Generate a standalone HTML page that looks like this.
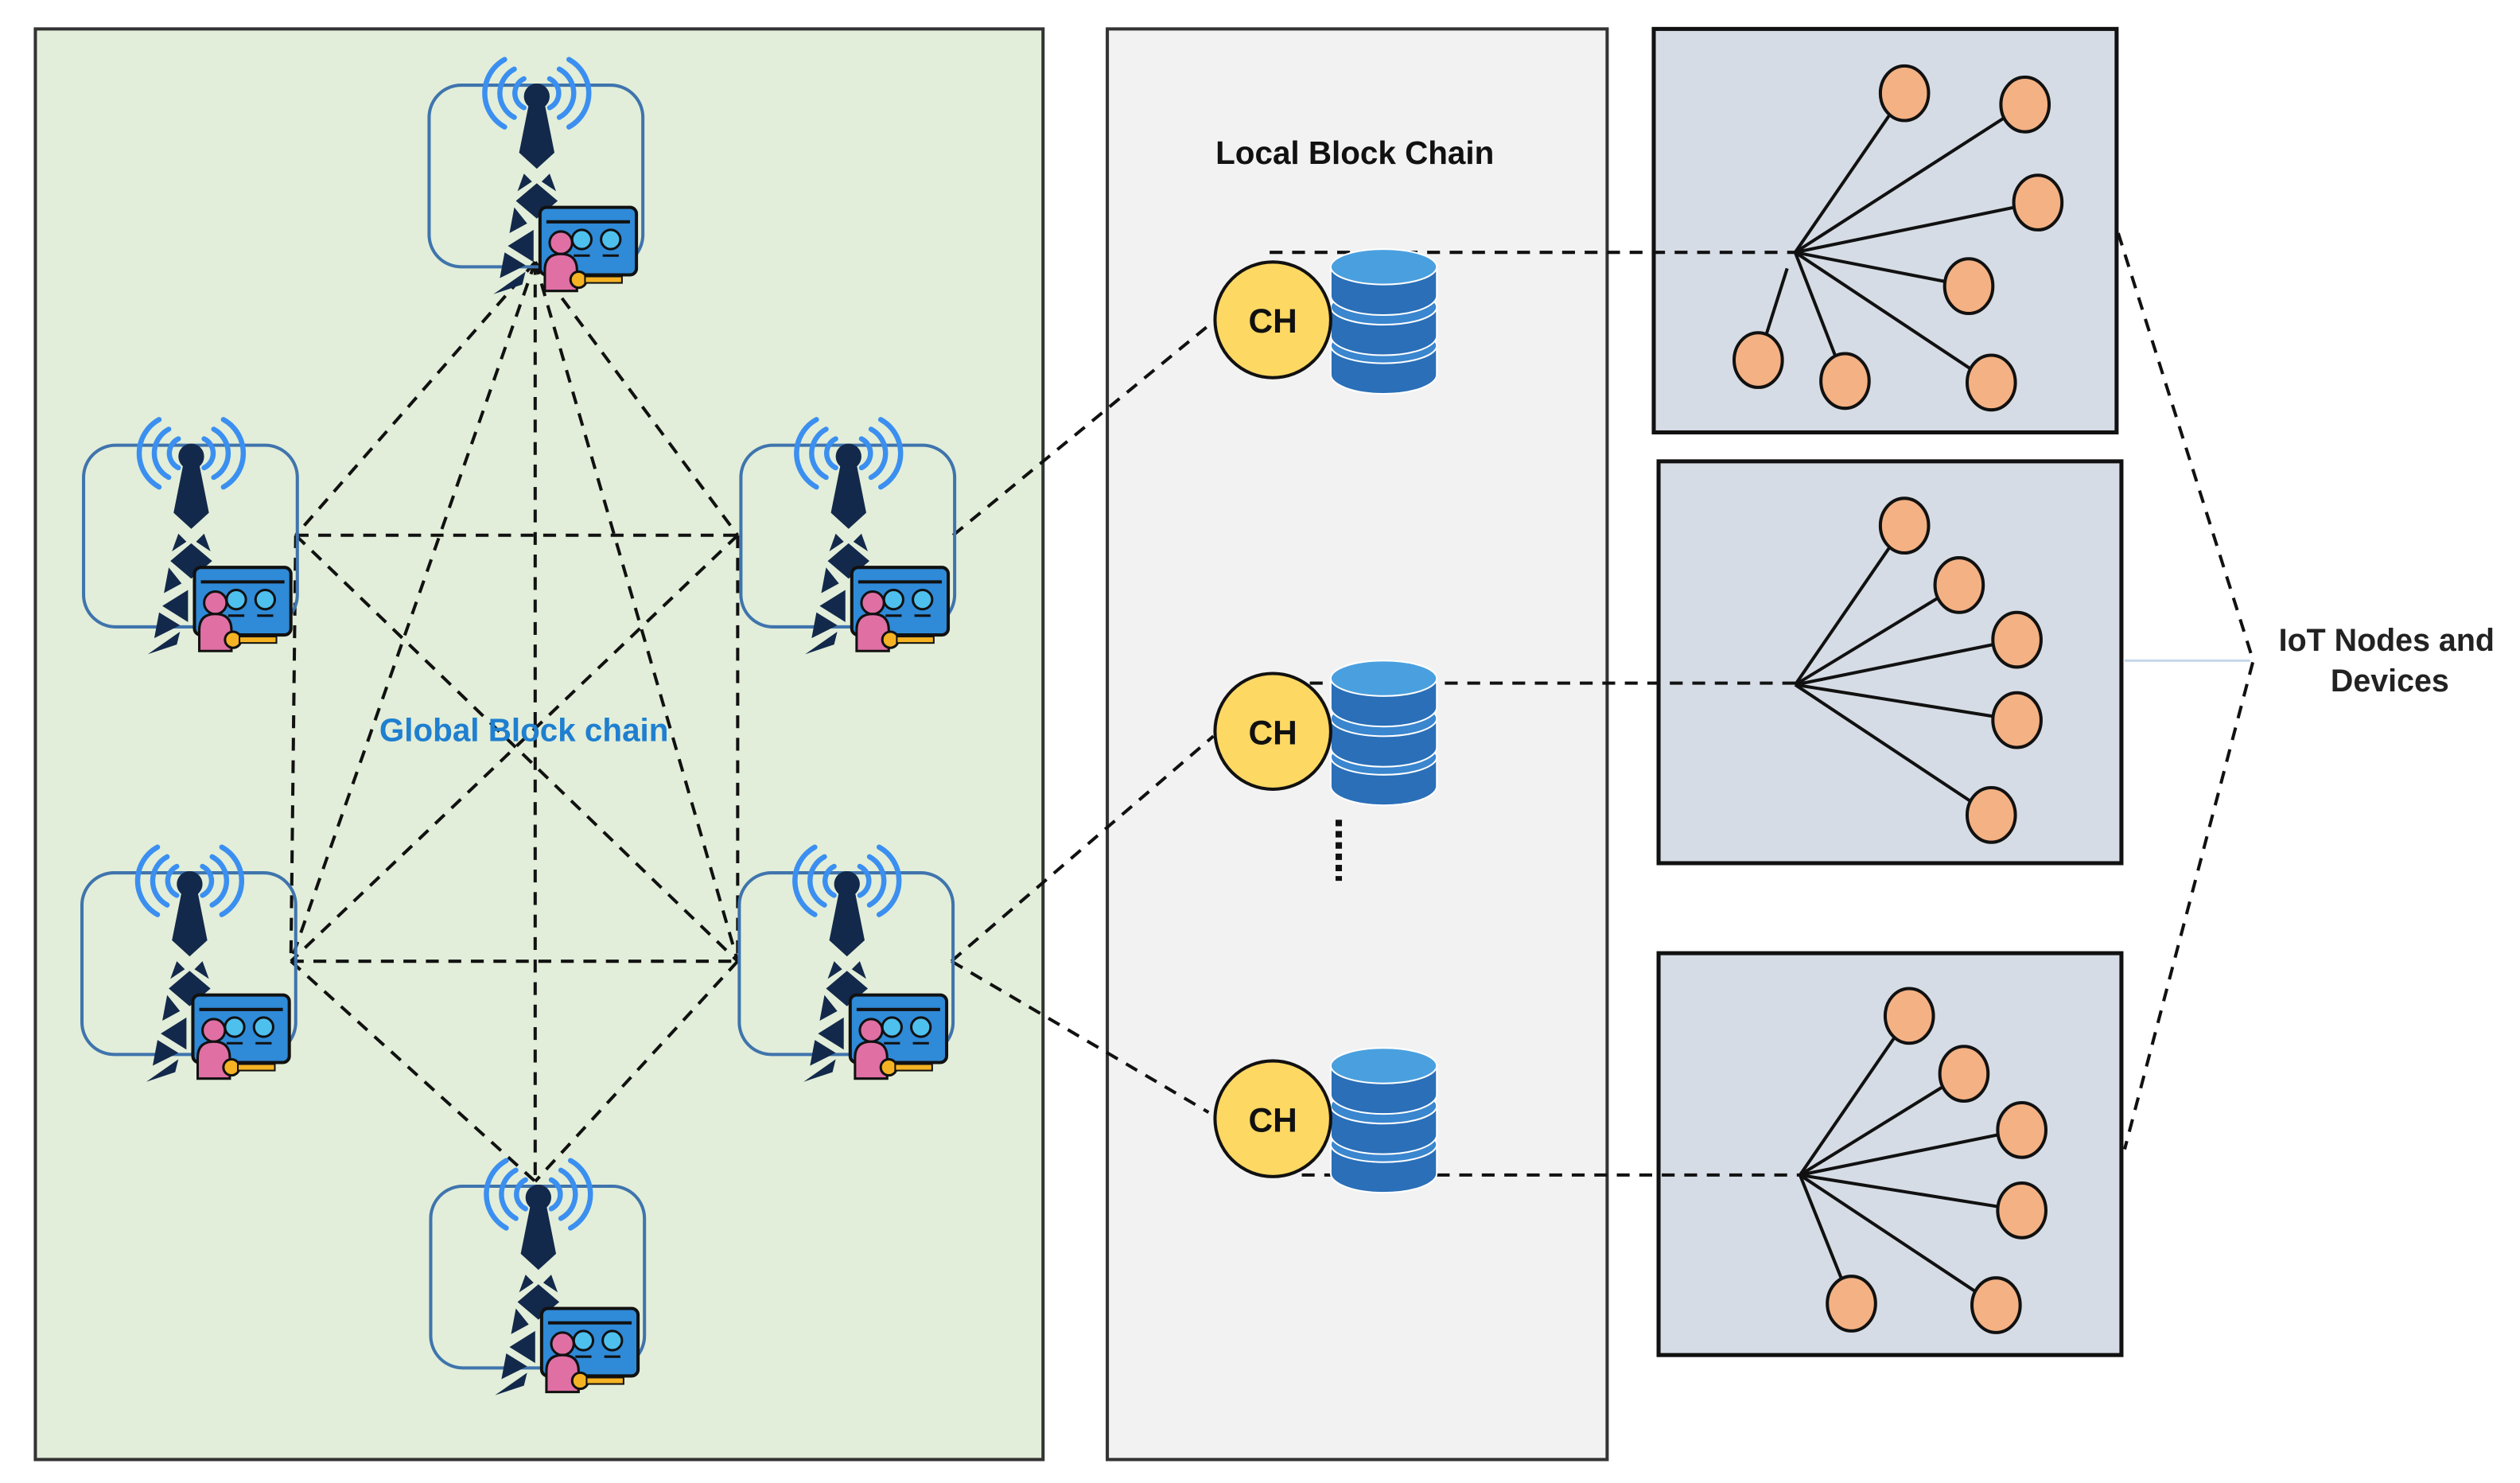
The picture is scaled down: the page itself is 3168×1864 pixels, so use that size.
<!DOCTYPE html>
<html><head><meta charset="utf-8"><style>
html,body{margin:0;padding:0;background:#fff;}
svg{display:block;}
text{font-family:"Liberation Sans",sans-serif;}
</style></head><body>
<svg width="3168" height="1864" viewBox="0 0 1568 922.6" preserveAspectRatio="none" xmlns="http://www.w3.org/2000/svg">
<defs>
<g id="tower">
  <rect x="0" y="0" width="133" height="113" rx="20" fill="none" stroke="#3f74ad" stroke-width="2"/>
  <g fill="none" stroke="#3b8ff0" stroke-width="3.2" stroke-linecap="round">
    <path d="M59 -4 A10 10 0 0 0 59 14"/><path d="M75 -4 A10 10 0 0 1 75 14"/>
    <path d="M53 -10 A17 17 0 0 0 53 20"/><path d="M81 -10 A17 17 0 0 1 81 20"/>
    <path d="M47 -16 A24 24 0 0 0 47 26"/><path d="M87 -16 A24 24 0 0 1 87 26"/>
  </g>
  <circle cx="67" cy="7" r="8" fill="#13294b"/>
  <g fill="#13294b">
  <polygon points="62,12 72,12 78,42 67,52 56,42"/>
  <polygon points="59,55 64,60 55,66"/>
  <polygon points="75,55 70,60 79,66"/>
  <polygon points="67,61 80,72 67,83 54,72"/>
  <polygon points="53,76 61,86 50,92"/>
  <polygon points="65,90 49,100 65,110"/>
  <polygon points="47,104 60,112 44,120"/>
  <polygon points="60,116 40,130 58,124"/>
  </g>
  <rect x="69" y="76" width="60" height="42" rx="4" fill="#2f8ad8" stroke="#111" stroke-width="2"/>
  <line x1="73" y1="85" x2="125" y2="85" stroke="#111" stroke-width="2"/>
  <circle cx="95" cy="96" r="6" fill="#4ec0ee" stroke="#111" stroke-width="1.5"/>
  <circle cx="113" cy="96" r="6" fill="#4ec0ee" stroke="#111" stroke-width="1.5"/>
  <line x1="108" y1="106" x2="118" y2="106" stroke="#111" stroke-width="1.5"/>
  <line x1="90" y1="106" x2="100" y2="106" stroke="#111" stroke-width="1.5"/>
  <circle cx="82" cy="98" r="7" fill="#e06fa4" stroke="#111" stroke-width="1.5"/>
  <path d="M72 128 L72 115 Q72 105 82 105 Q92 105 92 115 L92 128 Z" fill="#e06fa4" stroke="#111" stroke-width="1.5"/>
  <circle cx="93" cy="121" r="5" fill="#f5b324" stroke="#111" stroke-width="1.5"/>
  <rect x="97" y="119" width="23" height="4" fill="#f5b324" stroke="#111" stroke-width="1"/>
</g>
<g id="db">
  <g stroke="#fff" stroke-width="1">
  <path d="M0 62 v18 a33 12 0 0 0 66 0 v-18 z" fill="#2a6fb8"/>
  <ellipse cx="33" cy="62" rx="33" ry="11" fill="#3a86cf"/>
  <path d="M0 38 v18 a33 12 0 0 0 66 0 v-18 z" fill="#2a6fb8"/>
  <ellipse cx="33" cy="38" rx="33" ry="11" fill="#3a86cf"/>
  <path d="M0 13 v18 a33 12 0 0 0 66 0 v-18 z" fill="#2a6fb8"/>
  <ellipse cx="33" cy="13" rx="33" ry="11" fill="#4aa0df"/>
  </g>
</g>
</defs>

<rect x="22" y="18" width="627" height="890" fill="#e2eed9" stroke="#333" stroke-width="2"/>
<rect x="689" y="18" width="311" height="890" fill="#f2f2f2" stroke="#333" stroke-width="2"/>
<rect x="1029" y="18" width="288" height="251" fill="#d6dce5" stroke="#111" stroke-width="2.5"/>
<rect x="1032" y="287" width="288" height="250" fill="#d6dce5" stroke="#111" stroke-width="2.5"/>
<rect x="1032" y="593" width="288" height="250" fill="#d6dce5" stroke="#111" stroke-width="2.5"/>

<g stroke="#111" stroke-width="2" stroke-dasharray="8,6" fill="none">
  <line x1="333" y1="163" x2="184" y2="333"/>
  <line x1="333" y1="163" x2="459" y2="333"/>
  <line x1="333" y1="163" x2="181" y2="598"/>
  <line x1="333" y1="163" x2="459" y2="598"/>
  <line x1="333" y1="163" x2="333" y2="735"/>
  <line x1="184" y1="333" x2="459" y2="333"/>
  <line x1="181" y1="598" x2="459" y2="598"/>
  <line x1="184" y1="333" x2="181" y2="598"/>
  <line x1="459" y1="333" x2="459" y2="598"/>
  <line x1="184" y1="333" x2="459" y2="598"/>
  <line x1="459" y1="333" x2="181" y2="598"/>
  <line x1="181" y1="598" x2="333" y2="735"/>
  <line x1="459" y1="598" x2="333" y2="735"/>
  <line x1="593" y1="333" x2="755" y2="200"/>
  <line x1="592" y1="598" x2="755" y2="458"/>
  <line x1="592" y1="598" x2="752" y2="692"/>
  <line x1="790" y1="157" x2="1117" y2="157"/>
  <line x1="815" y1="425" x2="1117" y2="425"/>
  <line x1="810" y1="731" x2="1120" y2="731"/>
  <polyline points="1318,145 1402,411 1322,715"/>
</g>
<line x1="1322" y1="411" x2="1400" y2="411" stroke="#c5d7ea" stroke-width="1.5"/>
<line x1="833" y1="510" x2="833" y2="548" stroke="#111" stroke-width="4" stroke-dasharray="4,3"/>

<use href="#tower" x="267" y="53"/>
<use href="#tower" x="52" y="277"/>
<use href="#tower" x="461" y="277"/>
<use href="#tower" x="51" y="543"/>
<use href="#tower" x="460" y="543"/>
<use href="#tower" x="268" y="738"/>

<text x="326" y="461" font-size="20" font-weight="bold" fill="#1f7fd0" text-anchor="middle">Global Block chain</text>
<text x="843" y="102" font-size="20" font-weight="bold" fill="#111" text-anchor="middle">Local Block Chain</text>

<use href="#db" x="828" y="153"/>
<use href="#db" x="828" y="409"/>
<use href="#db" x="828" y="650"/>
<g fill="#fdd863" stroke="#111" stroke-width="2">
<circle cx="792" cy="199" r="36"/><circle cx="792" cy="455" r="36"/><circle cx="792" cy="696" r="36"/>
</g>
<g font-size="21" font-weight="bold" fill="#111" text-anchor="middle">
<text x="792" y="207">CH</text><text x="792" y="463">CH</text><text x="792" y="704">CH</text>
</g>

<g stroke="#111" stroke-width="2">
  <line x1="1117" y1="157" x2="1185" y2="58"/><line x1="1117" y1="157" x2="1260" y2="65"/>
  <line x1="1117" y1="157" x2="1268" y2="126"/><line x1="1117" y1="157" x2="1225" y2="178"/>
  <line x1="1112" y1="167" x2="1094" y2="224"/><line x1="1117" y1="157" x2="1148" y2="237"/>
  <line x1="1117" y1="157" x2="1239" y2="238"/>
  <line x1="1117" y1="426" x2="1185" y2="327"/><line x1="1117" y1="426" x2="1219" y2="364"/>
  <line x1="1117" y1="426" x2="1255" y2="398"/><line x1="1117" y1="426" x2="1255" y2="448"/>
  <line x1="1117" y1="426" x2="1239" y2="507"/>
  <line x1="1120" y1="731" x2="1188" y2="632"/><line x1="1120" y1="731" x2="1222" y2="668"/>
  <line x1="1120" y1="731" x2="1258" y2="703"/><line x1="1120" y1="731" x2="1258" y2="753"/>
  <line x1="1120" y1="731" x2="1152" y2="811"/><line x1="1120" y1="731" x2="1242" y2="812"/>
</g>
<g fill="#f4b183" stroke="#111" stroke-width="2">
  <ellipse cx="1185" cy="58" rx="15" ry="17"/><ellipse cx="1260" cy="65" rx="15" ry="17"/>
  <ellipse cx="1268" cy="126" rx="15" ry="17"/><ellipse cx="1225" cy="178" rx="15" ry="17"/>
  <ellipse cx="1094" cy="224" rx="15" ry="17"/><ellipse cx="1148" cy="237" rx="15" ry="17"/>
  <ellipse cx="1239" cy="238" rx="15" ry="17"/>
  <ellipse cx="1185" cy="327" rx="15" ry="17"/><ellipse cx="1219" cy="364" rx="15" ry="17"/>
  <ellipse cx="1255" cy="398" rx="15" ry="17"/><ellipse cx="1255" cy="448" rx="15" ry="17"/>
  <ellipse cx="1239" cy="507" rx="15" ry="17"/>
  <ellipse cx="1188" cy="632" rx="15" ry="17"/><ellipse cx="1222" cy="668" rx="15" ry="17"/>
  <ellipse cx="1258" cy="703" rx="15" ry="17"/><ellipse cx="1258" cy="753" rx="15" ry="17"/>
  <ellipse cx="1152" cy="811" rx="15" ry="17"/><ellipse cx="1242" cy="812" rx="15" ry="17"/>
</g>

<g font-size="19.5" font-weight="bold" fill="#222" text-anchor="middle">
<text x="1485" y="405">IoT Nodes and</text>
<text x="1487" y="430">Devices</text>
</g>
</svg>
</body></html>
